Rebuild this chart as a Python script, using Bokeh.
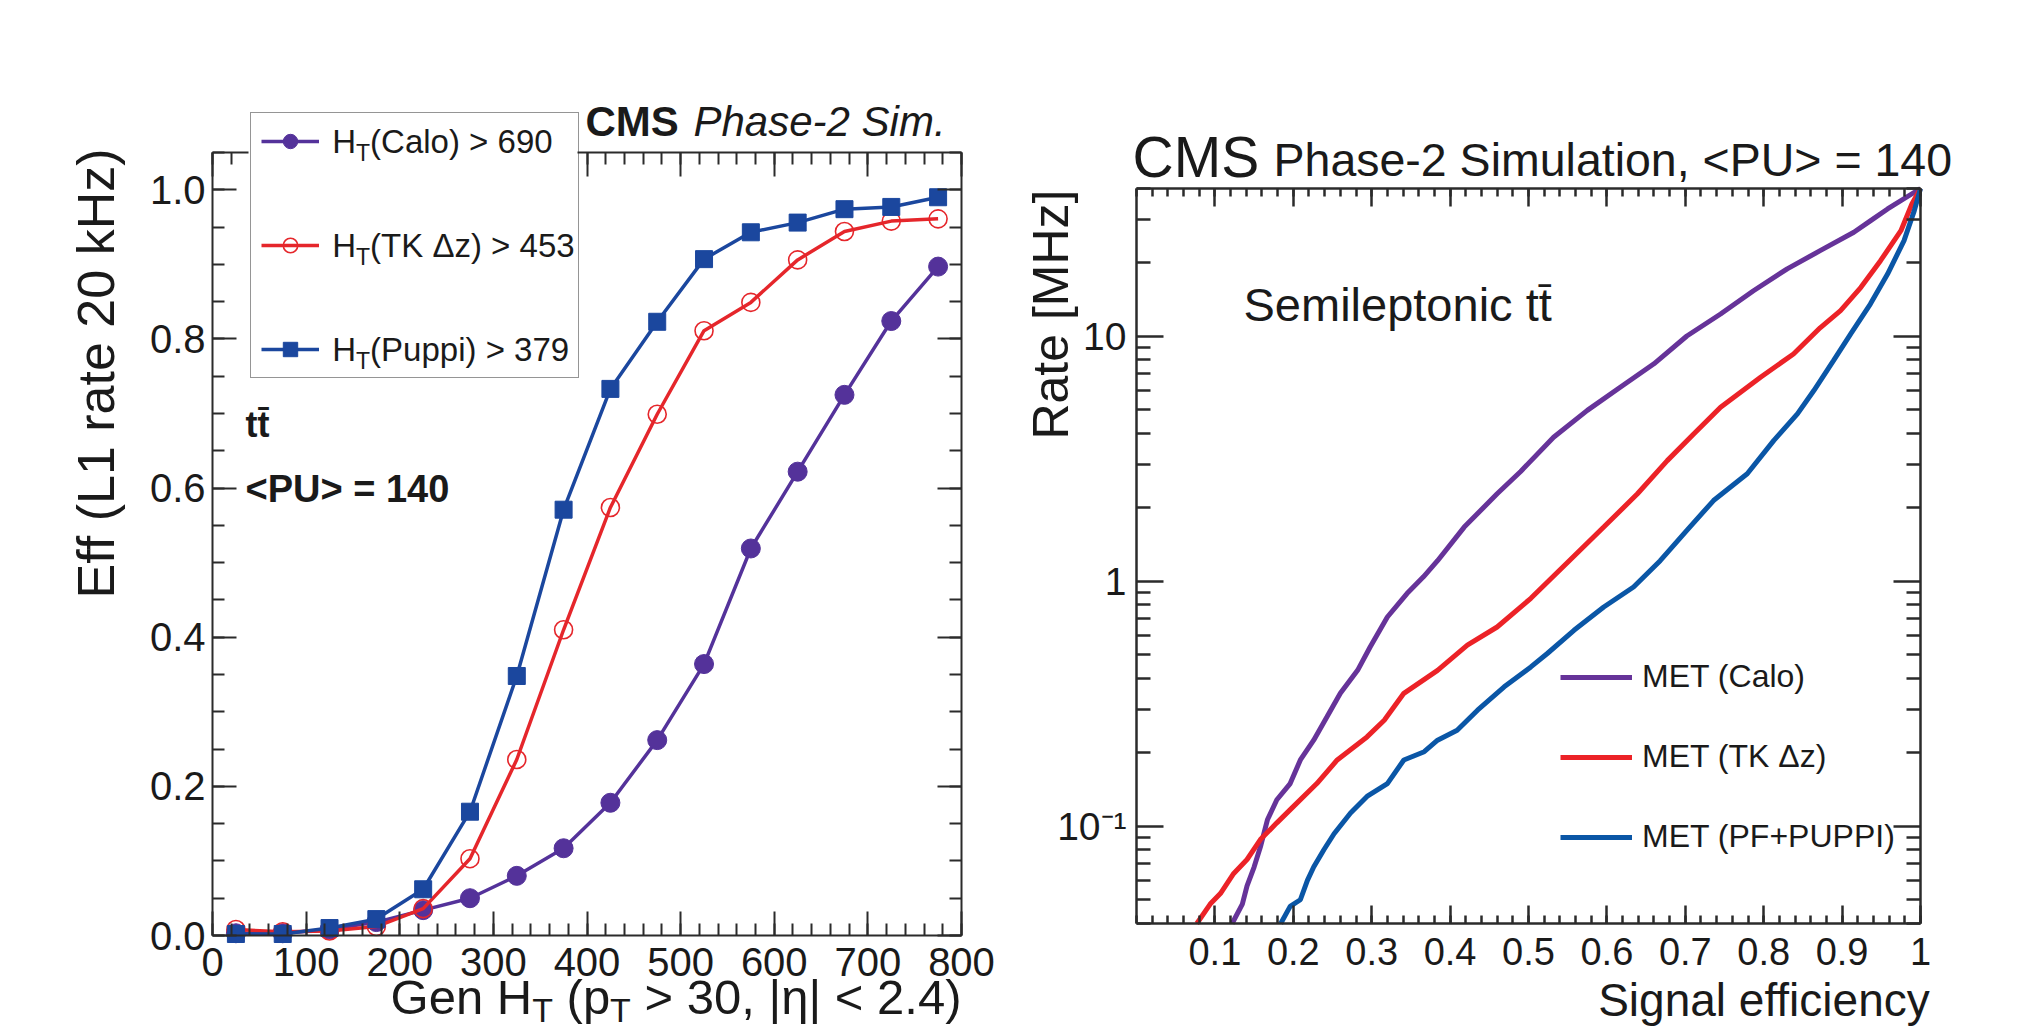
import math
from bokeh.plotting import figure
from bokeh.models import (Label, LinearAxis, LogAxis, FixedTicker, PrintfTickFormatter,
                          Range1d, Legend, LegendItem)
from bokeh.layouts import row
from bokeh.embed import file_html
from bokeh.resources import INLINE

# ---------------- data: left panel (efficiency vs generated HT) ----------------
ht_gen = [25, 75, 125, 175, 225, 275, 325, 375, 425, 475, 525, 575, 625, 675, 725, 775]
eff_calo = [0.003, 0.003, 0.008, 0.018, 0.034, 0.050, 0.080, 0.117, 0.178, 0.262,
            0.364, 0.519, 0.622, 0.725, 0.824, 0.897]
eff_tk = [0.008, 0.005, 0.006, 0.012, 0.036, 0.103, 0.236, 0.410, 0.574, 0.699,
          0.811, 0.849, 0.906, 0.944, 0.958, 0.961]
eff_puppi = [0.002, 0.002, 0.010, 0.022, 0.062, 0.166, 0.348, 0.571, 0.733, 0.823,
             0.907, 0.943, 0.956, 0.974, 0.977, 0.990]
left_labels = ["(Calo) > 690", "(TK \u0394z) > 453", "(Puppi) > 379"]

# ---------------- data: right panel (rate vs signal efficiency) ----------------
calo_eff = [0.122, 0.135, 0.141, 0.150, 0.158, 0.167, 0.179, 0.196, 0.209, 0.226, 0.243,
            0.260, 0.282, 0.298, 0.320, 0.345, 0.366, 0.384, 0.418, 0.460, 0.490, 0.532,
            0.575, 0.617, 0.660, 0.702, 0.745, 0.787, 0.830, 0.872, 0.915, 0.936, 0.958, 1.0]
calo_rate = [0.040, 0.048, 0.057, 0.068, 0.082, 0.106, 0.128, 0.149, 0.186, 0.224, 0.279,
             0.348, 0.432, 0.538, 0.713, 0.889, 1.04, 1.21, 1.66, 2.27, 2.80, 3.86,
             4.97, 6.18, 7.70, 10.0, 12.3, 15.3, 18.8, 22.3, 26.5, 29.5, 33.0, 40.0]
tk_eff = [0.077, 0.094, 0.107, 0.124, 0.141, 0.158, 0.179, 0.200, 0.230, 0.256, 0.294,
          0.316, 0.341, 0.384, 0.422, 0.460, 0.503, 0.552, 0.596, 0.639, 0.677, 0.711,
          0.745, 0.796, 0.838, 0.872, 0.898, 0.924, 0.949, 0.975, 0.989, 1.0]
tk_rate = [0.040, 0.048, 0.053, 0.064, 0.073, 0.088, 0.103, 0.120, 0.149, 0.186, 0.231,
           0.270, 0.348, 0.432, 0.547, 0.649, 0.850, 1.21, 1.66, 2.27, 3.10, 3.99,
           5.12, 6.79, 8.45, 10.8, 12.7, 15.8, 20.3, 26.9, 34.6, 40.0]
puppi_eff = [0.184, 0.196, 0.209, 0.218, 0.226, 0.239, 0.252, 0.273, 0.294, 0.320, 0.341,
             0.367, 0.384, 0.409, 0.435, 0.469, 0.503, 0.524, 0.558, 0.596, 0.634, 0.668,
             0.702, 0.736, 0.779, 0.813, 0.843, 0.864, 0.889, 0.911, 0.936, 0.958, 0.979,
             0.992, 1.0]
puppi_rate = [0.040, 0.047, 0.050, 0.060, 0.068, 0.080, 0.093, 0.113, 0.132, 0.149, 0.186,
              0.201, 0.224, 0.246, 0.297, 0.370, 0.446, 0.506, 0.629, 0.783, 0.945, 1.21,
              1.61, 2.13, 2.74, 3.75, 4.81, 5.99, 7.94, 10.2, 13.5, 17.9, 24.5, 32.4, 40.0]
right_labels = ["MET (Calo)", "MET (TK \u0394z)", "MET (PF+PUPPI)"]

# ---------------- ticks ----------------
ht_ticks = list(range(0, 801, 100))
ht_minor = list(range(0, 801, 20))
eff_ticks = [0.0, 0.2, 0.4, 0.6, 0.8, 1.0]
eff_minor = [round(0.05 * i, 2) for i in range(22)]
sig_ticks = [round(0.1 * i, 1) for i in range(1, 11)]
sig_minor = [round(0.02 * i, 2) for i in range(51)]
rate_ticks = [0.1, 1, 10]
rate_minor = [m * 10.0 ** e for e in (-2, -1, 0, 1) for m in range(2, 10) if 0.04 <= m * 10.0 ** e <= 40]
rate_tick_text = {0.1: "10\u207b\u00b9", 1: "1", 10: "10"}

# ---------------- style ----------------
FONT = "Liberation Sans"
INK = "#1a1a1a"
FRAME = "#2b2b2b"
L_PURPLE, L_RED, L_BLUE = "#54329a", "#e5262b", "#1b479e"
R_PURPLE, R_RED, R_BLUE = "#663399", "#ec2227", "#0a56a6"

W = {' ': 278, '(': 333, ')': 333, ',': 278, '-': 333, '.': 278, '<': 584, '=': 584, '>': 584,
     '+': 584, '|': 260, '[': 278, ']': 278, 'C': 722, 'E': 667, 'G': 778, 'H': 722, 'K': 667,
     'M': 833, 'P': 667, 'S': 667, 'T': 611, 'U': 722, 'L': 556, 'F': 611, 'I': 278,
     'a': 556, 'c': 500, 'e': 556, 'f': 278, 'g': 556, 'h': 556, 'i': 222, 'k': 500, 'l': 222,
     'm': 833, 'n': 556, 'o': 556, 'p': 556, 'r': 333, 's': 500, 't': 278, 'u': 556, 'y': 500,
     'z': 500, '\u0394': 668, '\u03b7': 556}
for _d in "0123456789":
    W[_d] = 556


def tw(s, size):
    return sum(W.get(c, 556) for c in s) * size / 1000.0


def style_axis(ax, maj, mnr, lw, size, labels=True, standoff=6):
    ax.axis_line_color = FRAME
    ax.axis_line_width = lw
    ax.major_tick_in = maj
    ax.major_tick_out = 0
    ax.minor_tick_in = mnr
    ax.minor_tick_out = 0
    ax.major_tick_line_color = FRAME
    ax.major_tick_line_width = lw
    ax.minor_tick_line_color = FRAME
    ax.minor_tick_line_width = lw
    ax.major_label_text_font = FONT
    ax.major_label_text_font_size = size
    ax.major_label_standoff = standoff
    ax.major_label_text_color = INK if labels else None


def add_pieces(fig, cx, cy, x0, base, pieces, color=INK, style="normal"):
    """Place text runs side by side; base is the alphabetic baseline in page pixels."""
    x = x0
    for text, size, dy in pieces:
        lead = len(text) - len(text.lstrip(" "))
        x += tw(" " * lead, size)
        core = text.strip(" ")
        mid = base + dy - 0.35 * size
        fig.add_layout(Label(x=cx(x), y=cy(mid), text=core, text_font=FONT,
                             text_font_size=f"{size}px", text_font_style=style,
                             text_baseline="middle", text_align="left", text_color=color,
                             level="overlay"))
        x += tw(text.lstrip(" "), size)


FIG_H = 1032
L_PAGE_X0, L_W = 0, 1008
R_PAGE_X0, R_W = 1008, 1008

# ======================= LEFT PANEL =======================
LX0, LX1, LY0, LY1 = 212, 961, 152, 935
L_XMAX, L_YMAX = 800.0, 1.05
LEG_L, LEG_R, LEG_T, LEG_B = 250, 577, 114, 377.7


def lx(px):
    return (px - LX0) / (LX1 - LX0) * L_XMAX


def ly(py):
    return (LY1 - py) / (LY1 - LY0) * L_YMAX


pl = figure(width=L_W, height=FIG_H, title=None,
            x_range=Range1d(lx(L_PAGE_X0), lx(L_PAGE_X0 + L_W)),
            y_range=Range1d(ly(FIG_H), ly(0)),
            output_backend="svg", toolbar_location=None,
            min_border=0, min_border_left=0, min_border_right=0,
            min_border_top=0, min_border_bottom=0)
pl.outline_line_color = None
pl.grid.visible = False
pl.background_fill_color = "white"
pl.border_fill_color = "white"

xt = FixedTicker(ticks=ht_ticks, minor_ticks=ht_minor)
yt = FixedTicker(ticks=eff_ticks, minor_ticks=eff_minor)
ax = pl.xaxis[0]
ax.ticker = xt
ax.formatter = PrintfTickFormatter(format="%d")
ax.fixed_location = 0.0
ax.bounds = (0, L_XMAX)
style_axis(ax, 24, 12, 2, "40px", True, 12)
ay = pl.yaxis[0]
ay.ticker = yt
ay.formatter = PrintfTickFormatter(format="%.1f")
ay.fixed_location = 0.0
ay.bounds = (0, L_YMAX)
style_axis(ay, 24, 12, 2, "40px", True, 7)
# top frame edge, interrupted by the legend box
cut_lo, cut_hi = lx(LEG_L - 2), lx(LEG_R)
for lo, hi in [(0.0, cut_lo), (cut_hi, L_XMAX)]:
    tk = FixedTicker(ticks=[t for t in ht_ticks if lo <= t <= hi],
                     minor_ticks=[t for t in ht_minor if lo <= t <= hi])
    ax_top = LinearAxis(ticker=tk, fixed_location=L_YMAX, bounds=(lo, hi))
    style_axis(ax_top, 24, 12, 2, "10px", False, 0)
    pl.add_layout(ax_top, "above")
ax_right = LinearAxis(ticker=yt, fixed_location=L_XMAX, bounds=(0, L_YMAX))
style_axis(ax_right, 24, 12, 2, "10px", False, 0)
pl.add_layout(ax_right, "right")

series_left = [
    (eff_calo, L_PURPLE, "circle", 19, L_PURPLE),
    (eff_tk, L_RED, "circle", 18, None),
    (eff_puppi, L_BLUE, "square", 17, L_BLUE),
]
items_left = []
for vals, col, mk, sz, fill in series_left:
    ln = pl.line(ht_gen, vals, line_color=col, line_width=3.5)
    sc = pl.scatter(ht_gen, vals, marker=mk, size=sz, line_color=col,
                    fill_color=fill, line_width=1.6 if fill is None else 1)
    items_left.append(LegendItem(label=" ", renderers=[ln, sc]))

leg_l = Legend(items=items_left, location=(LEG_L - L_PAGE_X0, FIG_H - LEG_B), orientation="vertical",
               glyph_width=58, glyph_height=36, label_height=36, spacing=68, padding=10,
               margin=0, label_standoff=0, label_width=LEG_R - LEG_L - 78, label_text_font_size="1px",
               border_line_color=FRAME, border_line_width=1.5,
               background_fill_alpha=0.0)
pl.add_layout(leg_l)

# legend texts (H with subscript T)
for i, lab in enumerate(left_labels):
    base = 141.7 + 104 * i + 10.5
    add_pieces(pl, lx, ly, 331.7, base, [("H", 33, 0), ("T", 23, 8), (lab, 33, 0)])

# CMS Phase-2 Sim.
add_pieces(pl, lx, ly, 585, 136, [("CMS", 42, 0)], style="bold")
add_pieces(pl, lx, ly, 693, 136, [("Phase-2 Sim.", 42, 0)], style="italic")
# sample text
add_pieces(pl, lx, ly, 245, 436.7, [("tt\u0304", 36, 0)], style="bold")
add_pieces(pl, lx, ly, 245, 501.7, [("<PU> = 140", 38, 0)], style="bold")

# x-axis title, right aligned to the plot box
xl_pieces = [("Gen H", 49, 0), ("T", 34, 7), (" (p", 49, 0), ("T", 34, 7),
             (" > 30, |\u03b7| < 2.4)", 49, 0)]
xl_width = sum(tw(t, s) for t, s, _ in xl_pieces)
add_pieces(pl, lx, ly, LX1 - xl_width, 1014, xl_pieces)

# y-axis title (rotated, aligned to top)
pl.add_layout(Label(x=lx(95), y=ly(148), text="Eff (L1 rate 20 kHz)", angle=math.pi / 2,
                    text_align="right", text_baseline="middle", text_font=FONT,
                    text_font_size="52px", text_color=INK, level="overlay"))

# ======================= RIGHT PANEL =======================
RX0, RX1, RY0, RY1 = 1136, 1920, 188, 923
R_YMIN, R_YMAX = 0.04, 40.0
R_DEC = math.log10(R_YMAX / R_YMIN)


def rx(px):
    return (px - RX0) / (RX1 - RX0)


def ry(py):
    return 10 ** (math.log10(R_YMIN) + (RY1 - py) / (RY1 - RY0) * R_DEC)


pr = figure(width=R_W, height=FIG_H, title=None,
            x_range=Range1d(rx(R_PAGE_X0), rx(R_PAGE_X0 + R_W)),
            y_range=Range1d(ry(FIG_H), ry(0)),
            y_axis_type="log", output_backend="svg", toolbar_location=None,
            min_border=0, min_border_left=0, min_border_right=0,
            min_border_top=0, min_border_bottom=0)
pr.outline_line_color = None
pr.grid.visible = False
pr.background_fill_color = "white"
pr.border_fill_color = "white"

sxt = FixedTicker(ticks=sig_ticks, minor_ticks=sig_minor)
ryt = FixedTicker(ticks=rate_ticks, minor_ticks=rate_minor)
bx = pr.xaxis[0]
bx.ticker = sxt
bx.formatter = PrintfTickFormatter(format="%.1f")
bx.major_label_overrides = {1.0: "1"}
bx.fixed_location = R_YMIN
bx.bounds = (0, 1)
style_axis(bx, 18, 8, 2.5, "38px", True, 14)
by = pr.yaxis[0]
by.ticker = ryt
by.formatter = PrintfTickFormatter(format="%g")
by.major_label_overrides = rate_tick_text
by.fixed_location = 0.0
by.bounds = (R_YMIN, R_YMAX)
style_axis(by, 27, 14, 2.5, "39px", True, 10)
rtop = LinearAxis(ticker=sxt, fixed_location=R_YMAX, bounds=(0, 1))
style_axis(rtop, 18, 8, 2.5, "10px", False, 0)
pr.add_layout(rtop, "above")
rright = LogAxis(ticker=ryt, fixed_location=1.0, bounds=(R_YMIN, R_YMAX))
style_axis(rright, 27, 14, 2.5, "10px", False, 0)
pr.add_layout(rright, "right")

items_right = []
for xs, ys, col, lab in [(calo_eff, calo_rate, R_PURPLE, right_labels[0]),
                         (tk_eff, tk_rate, R_RED, right_labels[1]),
                         (puppi_eff, puppi_rate, R_BLUE, right_labels[2])]:
    r = pr.line(xs, ys, line_color=col, line_width=5)
    items_right.append(LegendItem(label=lab, renderers=[r]))

leg_r = Legend(items=items_right, location=(1560 - R_PAGE_X0, FIG_H - 856.7), orientation="vertical",
               glyph_width=72, glyph_height=40, label_height=40, spacing=40, padding=0,
               margin=0, label_standoff=10, label_text_font=FONT, label_text_font_size="32px",
               label_text_color=INK, border_line_color=None, background_fill_alpha=0.0)
pr.add_layout(leg_r)

add_pieces(pr, rx, ry, 1132, 176, [("CMS", 57, 0)])
add_pieces(pr, rx, ry, 1273, 176, [("Phase-2 Simulation, <PU> = 140", 46.5, 0)])
add_pieces(pr, rx, ry, 1243, 320, [("Semileptonic tt\u0304", 47, 0)])
sig_w = tw("Signal efficiency", 46)
add_pieces(pr, rx, ry, 1930 - sig_w, 1016, [("Signal efficiency", 46, 0)])
pr.add_layout(Label(x=rx(1050), y=ry(189), text="Rate [MHz]", angle=math.pi / 2,
                    text_align="right", text_baseline="middle", text_font=FONT,
                    text_font_size="50px", text_color=INK, level="overlay"))

layout = row(pl, pr)
open("out.html", "w").write(file_html(layout, INLINE))
